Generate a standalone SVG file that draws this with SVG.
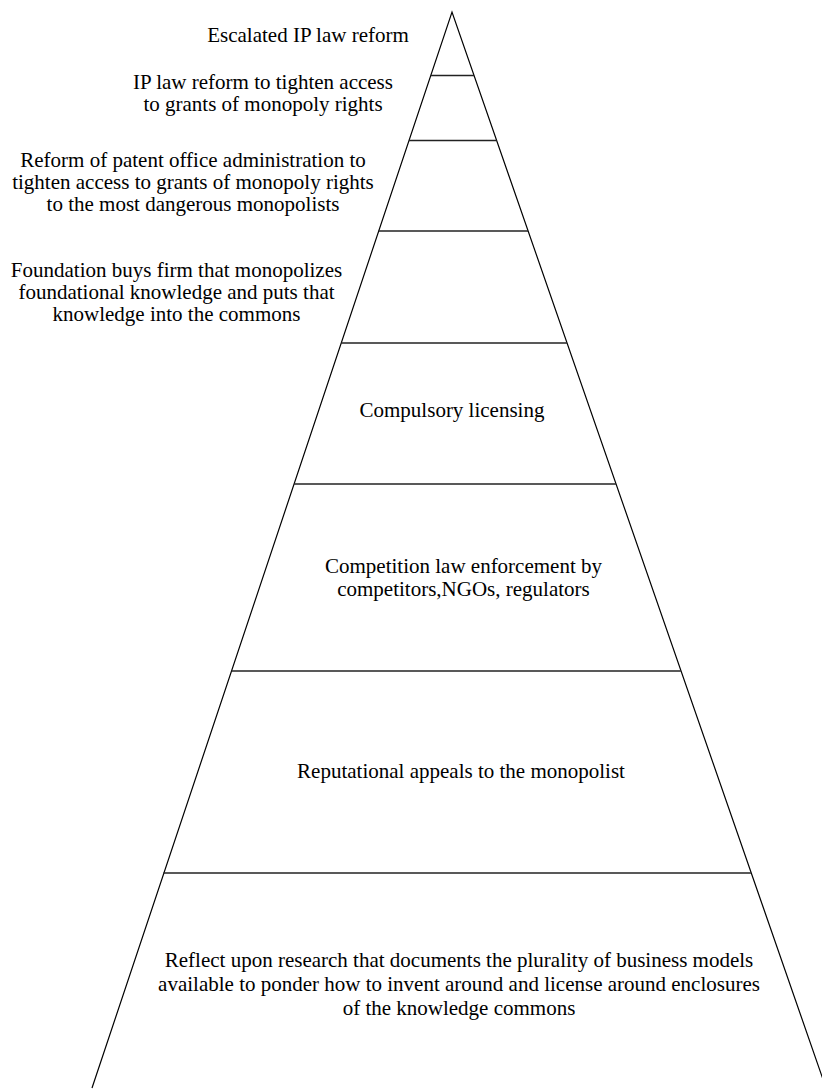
<svg xmlns="http://www.w3.org/2000/svg" width="822" height="1090" viewBox="0 0 822 1090">
  <style>
    .edge { fill: none; stroke: #000; stroke-width: 1.2; }
    .tier { stroke: #222; stroke-width: 1.6; }
    text { font-family: "Liberation Serif", "Times New Roman", serif; font-size: 21px; fill: #000; text-anchor: middle; }
  </style>
  <rect width="822" height="1090" fill="#fff"/>

  <!-- pyramid outline (open at the base) -->
  <g id="pyramid">
    <polyline class="edge" points="92,1088 452,12 826,1088"/>
  </g>

  <!-- tier dividers with their labels, top to bottom -->
  <g id="level-1">
    <text x="308" y="41.5">Escalated IP law reform</text>
  </g>
  <g id="level-2">
    <line class="tier" x1="430.8" y1="75.5" x2="474" y2="75.5"/>
    <text x="263" y="88.5">IP law reform to tighten access</text>
    <text x="263" y="110.5">to grants of monopoly rights</text>
  </g>
  <g id="level-3">
    <line class="tier" x1="409" y1="140.5" x2="496.6" y2="140.5"/>
    <text x="193" y="167">Reform of patent office administration to</text>
    <text x="193" y="189">tighten access to grants of monopoly rights</text>
    <text x="193" y="211">to the most dangerous monopolists</text>
  </g>
  <g id="level-4">
    <line class="tier" x1="378.7" y1="231" x2="528" y2="231"/>
    <text x="176.5" y="277">Foundation buys firm that monopolizes</text>
    <text x="176.5" y="299">foundational knowledge and puts that</text>
    <text x="176.5" y="321">knowledge into the commons</text>
  </g>
  <g id="level-5">
    <line class="tier" x1="341.2" y1="343" x2="566.9" y2="343"/>
    <text x="452" y="417">Compulsory licensing</text>
  </g>
  <g id="level-6">
    <line class="tier" x1="294.1" y1="484" x2="615.9" y2="484"/>
    <text x="463.5" y="573">Competition law enforcement by</text>
    <text x="463.5" y="595.5">competitors,NGOs, regulators</text>
  </g>
  <g id="level-7">
    <line class="tier" x1="231.5" y1="671" x2="680.8" y2="671"/>
    <text x="461" y="778">Reputational appeals to the monopolist</text>
  </g>
  <g id="level-8">
    <line class="tier" x1="163.5" y1="873" x2="750.9" y2="873"/>
    <text x="459" y="967">Reflect upon research that documents the plurality of business models</text>
    <text x="459" y="991">available to ponder how to invent around and license around enclosures</text>
    <text x="459" y="1015">of the knowledge commons</text>
  </g>
</svg>
